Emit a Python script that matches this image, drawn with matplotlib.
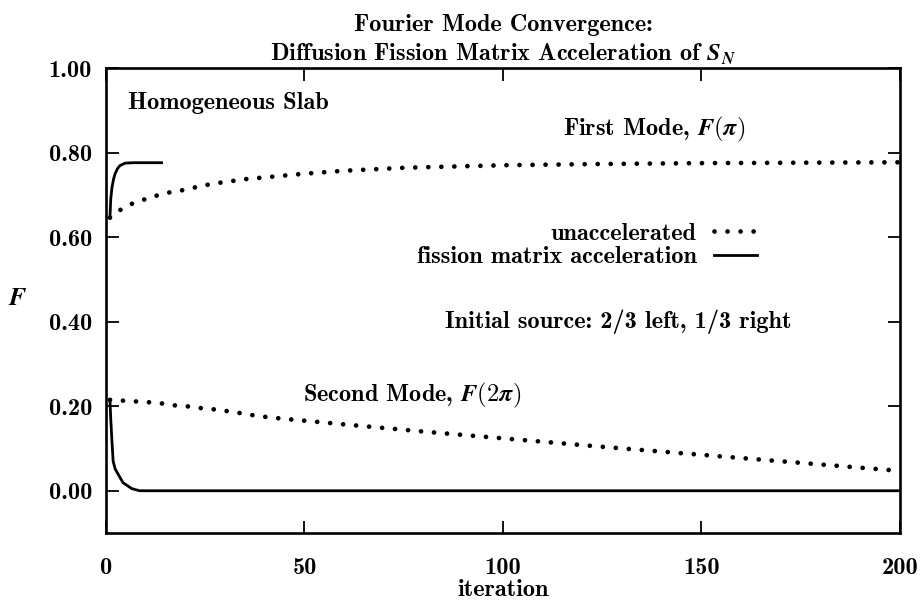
import matplotlib
matplotlib.use('Agg')
import matplotlib.pyplot as plt

# values
it_first_unacc = [1, 4, 7, 10, 13.4, 16.6, 20, 23, 26.7, 35, 50, 60, 75, 100, 125, 150, 175, 200]
F_first_unacc = [0.646, 0.667, 0.681, 0.69, 0.70, 0.707, 0.712, 0.719, 0.726, 0.737, 0.75,
                 0.757, 0.764, 0.77, 0.773, 0.775, 0.776, 0.777]

it_first_acc = [1.0, 1.2, 1.5, 1.9, 2.3, 2.9, 3.5, 4.8, 7.0, 14.0]
F_first_acc = [0.646, 0.69, 0.717, 0.737, 0.75, 0.762, 0.769, 0.775, 0.776, 0.776]

it_second_unacc = [1, 4.5, 8, 11.3, 14.6, 18, 21.5, 25, 28, 31.5, 35, 38, 41.8, 45,
                   60, 80, 100, 125, 150, 175, 200]
F_second_unacc = [0.215, 0.213, 0.211, 0.209, 0.206, 0.201, 0.199, 0.194, 0.192, 0.187,
                  0.182, 0.177, 0.173, 0.170, 0.157, 0.14, 0.124, 0.104, 0.085, 0.066, 0.047]

it_second_acc = [1.0, 1.2, 1.5, 1.8, 2.3, 3.0, 4.3, 6.5, 8.5, 200.0]
F_second_acc = [0.215, 0.17, 0.118, 0.07, 0.052, 0.04, 0.019, 0.005, 0.0, 0.0]

xticks = [0, 50, 100, 150, 200]
yticks = [0.0, 0.2, 0.4, 0.6, 0.8, 1.0]

plt.rcParams['font.family'] = ['cmb10', 'DejaVu Serif']
plt.rcParams['mathtext.fontset'] = 'cm'
plt.rcParams['axes.unicode_minus'] = False

fs = 17.5
fig = plt.figure(figsize=(9.24, 6.04), dpi=100)
ax = fig.add_axes([0.1147, 0.1175, 0.8593, 0.7699])

dots = (0, (0.01, 2.75))
ax.plot(it_first_unacc, F_first_unacc, color='black', lw=3.4, linestyle=dots,
        dash_capstyle='round', label='unaccelerated')
ax.plot(it_first_acc, F_first_acc, color='black', lw=2.0, label='fission matrix acceleration')
ax.plot(it_second_unacc, F_second_unacc, color='black', lw=3.4, linestyle=dots,
        dash_capstyle='round')
ax.plot(it_second_acc, F_second_acc, color='black', lw=2.0)

ax.set_xlim(0, 200)
ax.set_ylim(-0.1, 1.0)
ax.set_xticks(xticks)
ax.set_yticks(yticks)
ax.set_yticklabels(['%.2f' % v for v in yticks])
ax.tick_params(direction='in', length=9, width=1.3, top=True, right=True, labelsize=fs)
ax.tick_params(axis='x', pad=17)
ax.tick_params(axis='y', pad=10)
for s in ax.spines.values():
    s.set_linewidth(1.9)

ax.set_xlabel('iteration', fontsize=fs, labelpad=0)
ax.set_ylabel(r'$\boldsymbol{F}$', fontsize=fs + 1, rotation=0)
ax.yaxis.set_label_coords(-0.111, 0.48)
ax.set_title('Fourier Mode Convergence:\n'
             r'Diffusion Fission Matrix Acceleration of $\boldsymbol{S}_{\boldsymbol{N}}$',
             fontsize=fs, linespacing=1.3, pad=5)

ax.text(0.028, 0.925, 'Homogeneous Slab', transform=ax.transAxes, fontsize=fs,
        va='center', ha='left')
ax.text(138, 0.855, r'First Mode, $\boldsymbol{F(\pi)}$', fontsize=fs, ha='center', va='center')
ax.text(129, 0.40, 'Initial source: 2/3 left, 1/3 right', fontsize=fs,
        ha='center', va='center')
ax.text(77, 0.225, r'Second Mode, $\boldsymbol{F(2\pi)}$', fontsize=fs, ha='center', va='center')

ax.legend(loc='center right', bbox_to_anchor=(164, 0.58), bbox_transform=ax.transData,
          markerfirst=False, frameon=False, fontsize=fs, handlelength=1.78,
          handletextpad=0.7, labelspacing=0.05, borderpad=0, borderaxespad=0)

fig.savefig('out.png', dpi=100)
